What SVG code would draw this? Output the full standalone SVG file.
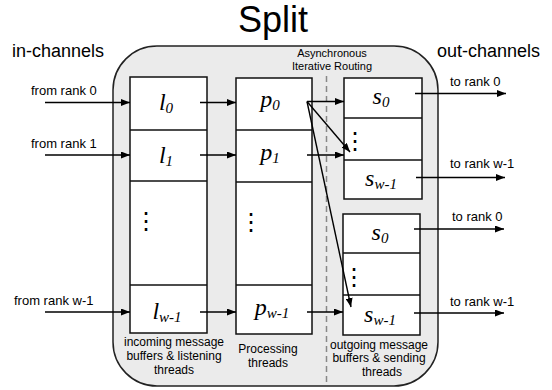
<svg xmlns="http://www.w3.org/2000/svg" width="552" height="390" viewBox="0 0 552 390">
<style>
.sans{font-family:"Liberation Sans",Arial,sans-serif;fill:#000}
.lbl{font-size:13px}
.cap{font-size:12px;text-anchor:middle}
.math{font-family:"Liberation Serif","Times New Roman",serif;font-style:italic;font-size:24px;text-anchor:middle;fill:#000}
.sub{font-size:15px}
.box{fill:#fff;stroke:#111;stroke-width:1.5}
.div{stroke:#111;stroke-width:1.5}
.dots{font-family:"DejaVu Sans",sans-serif;font-size:24px;text-anchor:middle;fill:#000}
.conn line{stroke:#000;stroke-width:1.4;marker-end:url(#ah)}
</style>
<defs>
<marker id="ah" viewBox="0 0 9 7" refX="9" refY="3.5" markerWidth="9" markerHeight="7" markerUnits="userSpaceOnUse" orient="auto">
<path d="M0,0 L9,3.5 L0,7 z" fill="#000"/>
</marker>
</defs>
<rect width="552" height="390" fill="#fff"/>
<text class="sans" x="273" y="32" font-size="36" text-anchor="middle">Split</text>
<text class="sans" x="12" y="57" font-size="18">in-channels</text>
<text class="sans" x="437" y="57" font-size="18">out-channels</text>
<g id="container">
<rect x="113" y="46" width="325" height="340" rx="44" ry="44" fill="#ebebeb" stroke="#222" stroke-width="1.5"/>
<line x1="326.5" y1="76" x2="326.5" y2="386" stroke="#888" stroke-width="1.5" stroke-dasharray="6,4"/>
<text class="sans" x="332" y="57" font-size="11" text-anchor="middle">Asynchronous</text>
<text class="sans" x="332" y="70" font-size="11" text-anchor="middle">Iterative Routing</text>
</g>
<g id="listen">
<rect class="box" x="130" y="77" width="77" height="256"/>
<line class="div" x1="130" y1="130" x2="207" y2="130"/>
<line class="div" x1="130" y1="181" x2="207" y2="181"/>
<line class="div" x1="130" y1="285" x2="207" y2="285"/>
<text class="math" x="166" y="110">l<tspan class="sub" dy="3">0</tspan></text>
<text class="math" x="166" y="163">l<tspan class="sub" dy="3">1</tspan></text>
<text class="dots" x="146" y="229">⋮</text>
<text class="math" x="167" y="319">l<tspan class="sub" dy="3">w-1</tspan></text>
<text class="sans cap" x="174" y="346">incoming message</text>
<text class="sans cap" x="174" y="360">buffers &amp; listening</text>
<text class="sans cap" x="174" y="374">threads</text>
</g>
<g id="process">
<rect class="box" x="236" y="78" width="76" height="256"/>
<line class="div" x1="236" y1="130" x2="312" y2="130"/>
<line class="div" x1="236" y1="182" x2="312" y2="182"/>
<line class="div" x1="236" y1="285" x2="312" y2="285"/>
<text class="math" x="270" y="107">p<tspan class="sub" dy="3">0</tspan></text>
<text class="math" x="270" y="160">p<tspan class="sub" dy="3">1</tspan></text>
<text class="dots" x="251" y="230">⋮</text>
<text class="math" x="272" y="315">p<tspan class="sub" dy="3">w-1</tspan></text>
<text class="sans cap" x="268" y="353">Processing</text>
<text class="sans cap" x="268" y="367">threads</text>
</g>
<g id="send1">
<rect class="box" x="344" y="78" width="78" height="121"/>
<line class="div" x1="344" y1="118" x2="422" y2="118"/>
<line class="div" x1="344" y1="160" x2="422" y2="160"/>
<text class="math" x="381" y="104">s<tspan class="sub" dy="3">0</tspan></text>
<text class="dots" x="355" y="149">⋮</text>
<text class="math" x="381" y="186">s<tspan class="sub" dy="3">w-1</tspan></text>
</g>
<g id="send2">
<rect class="box" x="343" y="214" width="77" height="121"/>
<line class="div" x1="343" y1="253" x2="420" y2="253"/>
<line class="div" x1="343" y1="295" x2="420" y2="295"/>
<text class="math" x="380" y="240">s<tspan class="sub" dy="3">0</tspan></text>
<text class="dots" x="354" y="285">⋮</text>
<text class="math" x="380" y="322">s<tspan class="sub" dy="3">w-1</tspan></text>
<text class="sans cap" x="379" y="349">outgoing message</text>
<text class="sans cap" x="379" y="362">buffers &amp; sending</text>
<text class="sans cap" x="382" y="376">threads</text>
</g>
<g id="labels">
<text class="sans lbl" x="31" y="95">from rank 0</text>
<text class="sans lbl" x="31" y="148">from rank 1</text>
<text class="sans lbl" x="14" y="305">from rank w-1</text>
<text class="sans lbl" x="450" y="86">to rank 0</text>
<text class="sans lbl" x="450" y="168">to rank w-1</text>
<text class="sans lbl" x="452" y="221">to rank 0</text>
<text class="sans lbl" x="450" y="306">to rank w-1</text>
</g>
<g id="connectors" class="conn">
<line x1="45" y1="102.5" x2="130" y2="102.5"/>
<line x1="45" y1="155" x2="130" y2="155"/>
<line x1="45" y1="312" x2="130" y2="312"/>
<line x1="200" y1="102.5" x2="236" y2="102.5"/>
<line x1="200" y1="155" x2="236" y2="155"/>
<line x1="200" y1="312" x2="236" y2="312"/>
<line x1="307" y1="101.5" x2="344" y2="101.5"/>
<line x1="307" y1="101.5" x2="350" y2="152"/>
<line x1="307" y1="101.5" x2="351" y2="307"/>
<line x1="307" y1="155" x2="344" y2="155"/>
<line x1="307" y1="312" x2="343" y2="312"/>
<line x1="415" y1="93.5" x2="506" y2="93.5"/>
<line x1="416" y1="177.5" x2="505" y2="177.5"/>
<line x1="414" y1="229" x2="504" y2="229"/>
<line x1="414" y1="313" x2="504" y2="313"/>
</g>
</svg>
